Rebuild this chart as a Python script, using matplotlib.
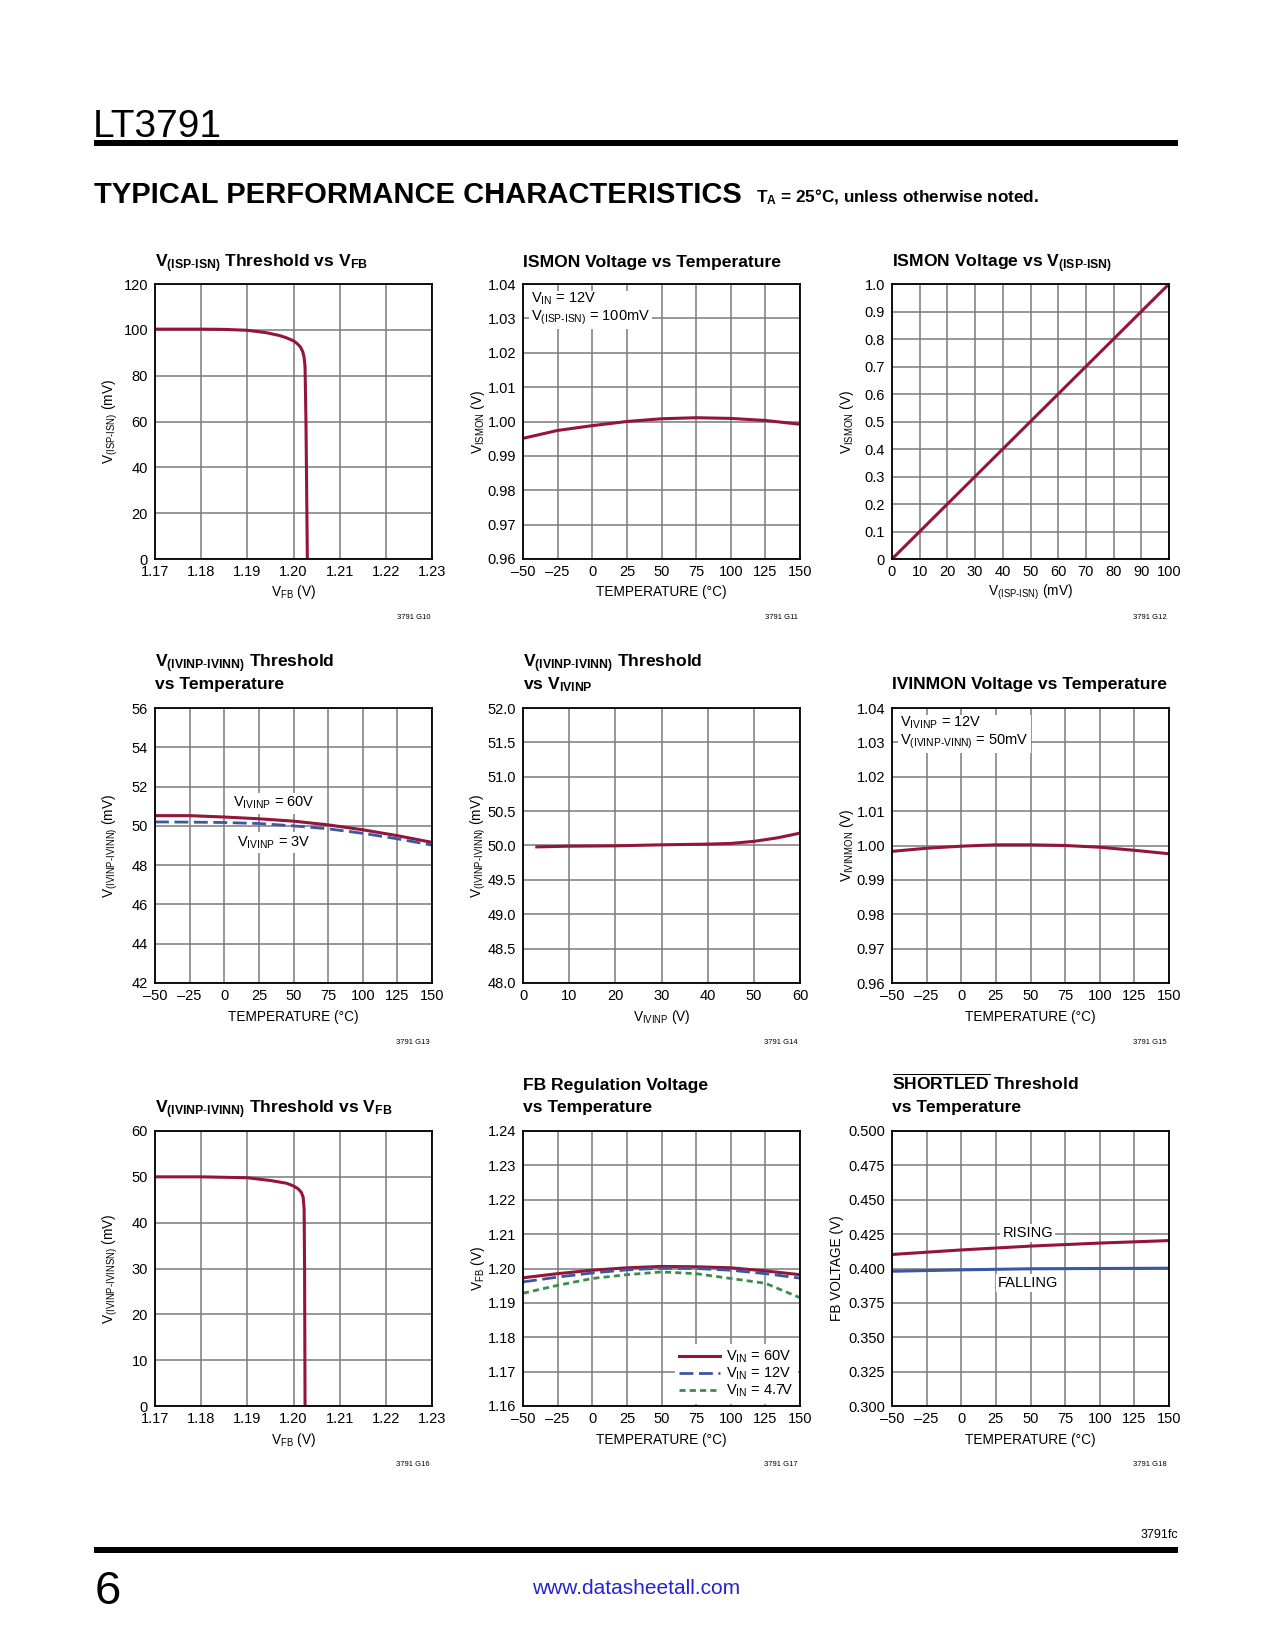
import numpy as np
import matplotlib
matplotlib.use('Agg')
import matplotlib.pyplot as plt
from matplotlib.patches import Rectangle

FONTS = ['Liberation Sans Narrow', 'Liberation Sans', 'DejaVu Sans']
plt.rcParams['font.family'] = FONTS
plt.rcParams['mathtext.fontset'] = 'custom'
plt.rcParams['mathtext.rm'] = 'Liberation Sans'
plt.rcParams['mathtext.bf'] = 'Liberation Sans:bold'

RED = '#931638'
BLUE = '#3d56a3'
GREEN = '#3a8d48'
GRID = '#7a7a7a'
W, H = 1275, 1650

# ---- data ----
temp = [-50, -25, 0, 25, 50, 75, 100, 125, 150]
temp_labels = ['\u201350', '\u201325', '0', '25', '50', '75', '100', '125', '150']
vfb_ticks = [1.17, 1.18, 1.19, 1.20, 1.21, 1.22, 1.23]
vfb_labels = ['1.17', '1.18', '1.19', '1.20', '1.21', '1.22', '1.23']

# G10
g10_vfb = [1.17, 1.18, 1.185, 1.19, 1.194, 1.197, 1.1985, 1.200, 1.2008, 1.2015, 1.2020,
           1.2023, 1.2025, 1.2027, 1.2029, 1.2030]
g10_vsense = [100.3, 100.3, 100.2, 99.8, 98.8, 97.5, 96.5, 95.2, 94.0, 92.5, 90.5,
              88.0, 84.0, 60.0, 20.0, 0.0]
# G11
g11_vismon = [0.9951, 0.9974, 0.9988, 1.0000, 1.0008, 1.0011, 1.0009, 1.0003, 0.9992]
# G12
g12_vsense = [0, 100]
g12_vismon = [0.0, 1.0]
# G13
g13_60v = [50.52, 50.52, 50.45, 50.36, 50.24, 50.05, 49.80, 49.50, 49.16]
g13_3v = [50.20, 50.19, 50.17, 50.12, 50.00, 49.85, 49.62, 49.34, 49.02]
# G14
g14_vivinp = [3, 10, 20, 30, 40, 45, 50, 55, 60]
g14_vth = [49.98, 49.99, 49.995, 50.01, 50.02, 50.03, 50.06, 50.11, 50.18]
# G15
g15_vivinmon = [0.9983, 0.9992, 0.9998, 1.0002, 1.0002, 1.0000, 0.9995, 0.9986, 0.9976]
# G16
g16_vfb = [1.17, 1.18, 1.19, 1.195, 1.1985, 1.200, 1.2010, 1.2017, 1.2021, 1.2023, 1.2024, 1.2025]
g16_vth = [50.0, 50.0, 49.8, 49.2, 48.6, 48.0, 47.4, 46.6, 45.5, 43.0, 30.0, 0.0]
# G17
g17_60v = [1.1973, 1.1985, 1.1995, 1.2002, 1.2006, 1.2005, 1.2002, 1.1993, 1.1982]
g17_12v = [1.1961, 1.1975, 1.1987, 1.1996, 1.2001, 1.2000, 1.1995, 1.1985, 1.1972]
g17_47v = [1.1928, 1.1951, 1.1971, 1.1982, 1.1990, 1.1985, 1.1971, 1.1957, 1.1915]
# G18
g18_temp = [-50, 0, 50, 100, 150]
g18_rising = [0.4102, 0.4135, 0.4163, 0.4185, 0.4203]
g18_falling = [0.3980, 0.3990, 0.3998, 0.4000, 0.4002]

fig = plt.figure(figsize=(W / 100, H / 100), dpi=100)

def fx(x):
    return x / W

def fy(y):
    return 1 - y / H

LEFTS = [155, 523, 892]
TOPS = [284, 708, 1131]
AW, AH = 277, 275
TICK_FS = 10.5
LAB_FS = 9.8
TITLE_FS = 12.6

def make_ax(col, row):
    l, t = LEFTS[col], TOPS[row]
    return fig.add_axes([fx(l), fy(t + AH), AW / W, AH / H])

def style(ax, xlim, xt, xl, ylim, yt, yl):
    ax.set_xlim(*xlim)
    ax.set_ylim(*ylim)
    ax.set_xticks(xt)
    ax.set_xticklabels(xl)
    ax.set_yticks(yt)
    ax.set_yticklabels(yl)
    ax.set_axisbelow(True)
    ax.grid(True, color=GRID, lw=1.1)
    ax.tick_params(length=0, labelsize=TICK_FS, pad=5)
    ax.tick_params(axis='x', pad=4.5)
    for s in ax.spines.values():
        s.set_linewidth(1.3)
        s.set_color('black')

def titles(col, row, lines):
    bases = {0: [267], 1: [667, 689], 2: [1090, 1112]}
    if len(lines) == 1:
        b = [bases[row][-1] if row != 2 else 1113]
    else:
        b = bases[row]
    for s, y in zip(lines, b):
        fig.text(fx(LEFTS[col]), fy(y), s, fontsize=TITLE_FS, fontweight='bold', va='baseline', ha='left')

def labels(col, row, xlab, ylab, ydx=45):
    l, t = LEFTS[col], TOPS[row]
    xy = {0: 592, 1: 1017, 2: 1440}[row]
    fig.text(fx(l + AW / 2), fy(xy), xlab, fontsize=LAB_FS, ha='center', va='center')
    fig.text(fx(l - ydx), fy(t + AH / 2), ylab, fontsize=LAB_FS, ha='center', va='center', rotation=90)

def code(col, row, s):
    cy = {0: 617, 1: 1042, 2: 1464}[row]
    fig.text(fx(LEFTS[col] + AW - 2), fy(cy), s, fontsize=5.5, ha='right', va='center')

box = dict(facecolor='white', edgecolor='none', pad=1.5)
TEMP_X = 'TEMPERATURE (\u00b0C)'
ANN_FS = 10.5

# ---- G10 ----
ax = make_ax(0, 0)
ax.plot(g10_vfb, g10_vsense, color=RED, lw=2.2)
style(ax, (1.17, 1.23), vfb_ticks, vfb_labels, (0, 120), range(0, 121, 20), [str(v) for v in range(0, 121, 20)])
titles(0, 0, [r'$\mathregular{V_{(ISP\text{-}ISN)}}$ Threshold vs $\mathregular{V_{FB}}$'])
labels(0, 0, r'$\mathregular{V_{FB}}$ (V)', r'$\mathregular{V_{(ISP\text{-}ISN)}}$ (mV)')
code(0, 0, '3791 G10')

# ---- G11 ----
mon_ticks = [0.96, 0.97, 0.98, 0.99, 1.00, 1.01, 1.02, 1.03, 1.04]
mon_labels = ['%.2f' % v for v in mon_ticks]
ax = make_ax(1, 0)
ax.plot(temp, g11_vismon, color=RED, lw=2.2)
style(ax, (-50, 150), temp, temp_labels, (0.96, 1.04), mon_ticks, mon_labels)
ax.text(0.03, 0.975, '$\\mathregular{V_{IN}}$ = 12V\n$\\mathregular{V_{(ISP\\text{-}ISN)}}$ = 100mV',
        transform=ax.transAxes, fontsize=ANN_FS, ha='left', va='top', bbox=box, linespacing=1.1)
titles(1, 0, ['ISMON Voltage vs Temperature'])
labels(1, 0, TEMP_X, r'$\mathregular{V_{ISMON}}$ (V)')
code(1, 0, '3791 G11')

# ---- G12 ----
ax = make_ax(2, 0)
ax.plot(g12_vsense, g12_vismon, color=RED, lw=2.2)
y12 = [0, 0.1, 0.2, 0.3, 0.4, 0.5, 0.6, 0.7, 0.8, 0.9, 1.0]
y12l = ['0', '0.1', '0.2', '0.3', '0.4', '0.5', '0.6', '0.7', '0.8', '0.9', '1.0']
style(ax, (0, 100), range(0, 101, 10), [str(v) for v in range(0, 101, 10)], (0, 1.0), y12, y12l)
titles(2, 0, [r'ISMON Voltage vs $\mathregular{V_{(ISP\text{-}ISN)}}$'])
labels(2, 0, r'$\mathregular{V_{(ISP\text{-}ISN)}}$ (mV)', r'$\mathregular{V_{ISMON}}$ (V)')
code(2, 0, '3791 G12')

# ---- G13 ----
ax = make_ax(0, 1)
ax.plot(temp, g13_60v, color=RED, lw=2.2)
ax.plot(temp, g13_3v, color=BLUE, lw=2.0, dashes=(5, 2))
style(ax, (-50, 150), temp, temp_labels, (42, 56), range(42, 57, 2), [str(v) for v in range(42, 57, 2)])
ax.text(36, 51.15, r'$\mathregular{V_{IVINP}}$ = 60V', fontsize=ANN_FS, ha='center', va='center', bbox=box)
ax.text(36, 49.15, r'$\mathregular{V_{IVINP}}$ = 3V', fontsize=ANN_FS, ha='center', va='center', bbox=box)
titles(0, 1, [r'$\mathregular{V_{(IVINP\text{-}IVINN)}}$ Threshold', 'vs Temperature'])
labels(0, 1, TEMP_X, r'$\mathregular{V_{(IVINP\text{-}IVINN)}}$ (mV)')
code(0, 1, '3791 G13')

# ---- G14 ----
ax = make_ax(1, 1)
ax.plot(g14_vivinp, g14_vth, color=RED, lw=2.2)
y14 = [48.0, 48.5, 49.0, 49.5, 50.0, 50.5, 51.0, 51.5, 52.0]
style(ax, (0, 60), range(0, 61, 10), [str(v) for v in range(0, 61, 10)], (48, 52), y14, ['%.1f' % v for v in y14])
titles(1, 1, [r'$\mathregular{V_{(IVINP\text{-}IVINN)}}$ Threshold', r'vs $\mathregular{V_{IVINP}}$'])
labels(1, 1, r'$\mathregular{V_{IVINP}}$ (V)', r'$\mathregular{V_{(IVINP\text{-}IVINN)}}$ (mV)')
code(1, 1, '3791 G14')

# ---- G15 ----
ax = make_ax(2, 1)
ax.plot(temp, g15_vivinmon, color=RED, lw=2.2)
style(ax, (-50, 150), temp, temp_labels, (0.96, 1.04), mon_ticks, mon_labels)
ax.text(0.03, 0.975, '$\\mathregular{V_{IVINP}}$ = 12V\n$\\mathregular{V_{(IVINP\\text{-}VINN)}}$ = 50mV',
        transform=ax.transAxes, fontsize=ANN_FS, ha='left', va='top', bbox=box, linespacing=1.1)
titles(2, 1, ['IVINMON Voltage vs Temperature'])
labels(2, 1, TEMP_X, r'$\mathregular{V_{IVINMON}}$ (V)')
code(2, 1, '3791 G15')

# ---- G16 ----
ax = make_ax(0, 2)
ax.plot(g16_vfb, g16_vth, color=RED, lw=2.2)
style(ax, (1.17, 1.23), vfb_ticks, vfb_labels, (0, 60), range(0, 61, 10), [str(v) for v in range(0, 61, 10)])
titles(0, 2, [r'$\mathregular{V_{(IVINP\text{-}IVINN)}}$ Threshold vs $\mathregular{V_{FB}}$'])
labels(0, 2, r'$\mathregular{V_{FB}}$ (V)', r'$\mathregular{V_{(IVINP\text{-}IVINSN)}}$ (mV)')
code(0, 2, '3791 G16')

# ---- G17 ----
ax = make_ax(1, 2)
ax.plot(temp, g17_60v, color=RED, lw=2.2, label=r'$\mathregular{V_{IN}}$ = 60V')
ax.plot(temp, g17_12v, color=BLUE, lw=2.0, dashes=(5, 2), label=r'$\mathregular{V_{IN}}$ = 12V')
ax.plot(temp, g17_47v, color=GREEN, lw=2.0, dashes=(2.2, 1.5), label=r'$\mathregular{V_{IN}}$ = 4.7V')
fb_ticks = [1.16, 1.17, 1.18, 1.19, 1.20, 1.21, 1.22, 1.23, 1.24]
style(ax, (-50, 150), temp, temp_labels, (1.16, 1.24), fb_ticks, ['%.2f' % v for v in fb_ticks])
leg = ax.legend(loc='lower right', fontsize=ANN_FS, frameon=True, fancybox=False, framealpha=1,
                handlelength=2.8, handletextpad=0.4, labelspacing=0.05, borderpad=0.3, borderaxespad=0.15)
leg.get_frame().set_edgecolor('none')
titles(1, 2, ['FB Regulation Voltage', 'vs Temperature'])
labels(1, 2, TEMP_X, r'$\mathregular{V_{FB}}$ (V)')
code(1, 2, '3791 G17')

# ---- G18 ----
ax = make_ax(2, 2)
ax.plot(g18_temp, g18_rising, color=RED, lw=2.2)
ax.plot(g18_temp, g18_falling, color=BLUE, lw=2.2)
y18 = [0.300, 0.325, 0.350, 0.375, 0.400, 0.425, 0.450, 0.475, 0.500]
style(ax, (-50, 150), temp, temp_labels, (0.3, 0.5), y18, ['%.3f' % v for v in y18])
ax.text(48, 0.4255, 'RISING', fontsize=ANN_FS, ha='center', va='center', bbox=box)
ax.text(48, 0.3897, 'FALLING', fontsize=ANN_FS, ha='center', va='center', bbox=box)
titles(2, 2, [r'$\mathregular{\overline{SHORTLED}}$ Threshold', 'vs Temperature'])
labels(2, 2, TEMP_X, 'FB VOLTAGE (V)', ydx=55)
code(2, 2, '3791 G18')

# ---- page header / footer ----
fig.text(fx(93), fy(137), 'LT3791', fontsize=28, va='baseline', ha='left')
fig.add_artist(Rectangle((fx(94), fy(146)), fx(1178) - fx(94), 6 / H, color='black', lw=0))
fig.text(fx(94), fy(203), 'TYPICAL PERFORMANCE CHARACTERISTICS', fontsize=21, fontweight='heavy',
         va='baseline', ha='left')
fig.text(fx(756), fy(202), r'$\mathregular{T_A}$ = 25°C, unless otherwise noted.', fontsize=12.3,
         fontweight='bold', va='baseline', ha='left')
fig.text(fx(1178), fy(1538), '3791fc', fontsize=9, ha='right', va='baseline')
fig.add_artist(Rectangle((fx(94), fy(1553)), fx(1178) - fx(94), 6 / H, color='black', lw=0))
fig.text(fx(95), fy(1604), '6', fontsize=34, va='baseline', ha='left')
fig.text(fx(636), fy(1594), 'www.datasheetall.com', fontsize=15, color='#2525d0', ha='center', va='baseline')

fig.savefig('out.png', dpi=100)
